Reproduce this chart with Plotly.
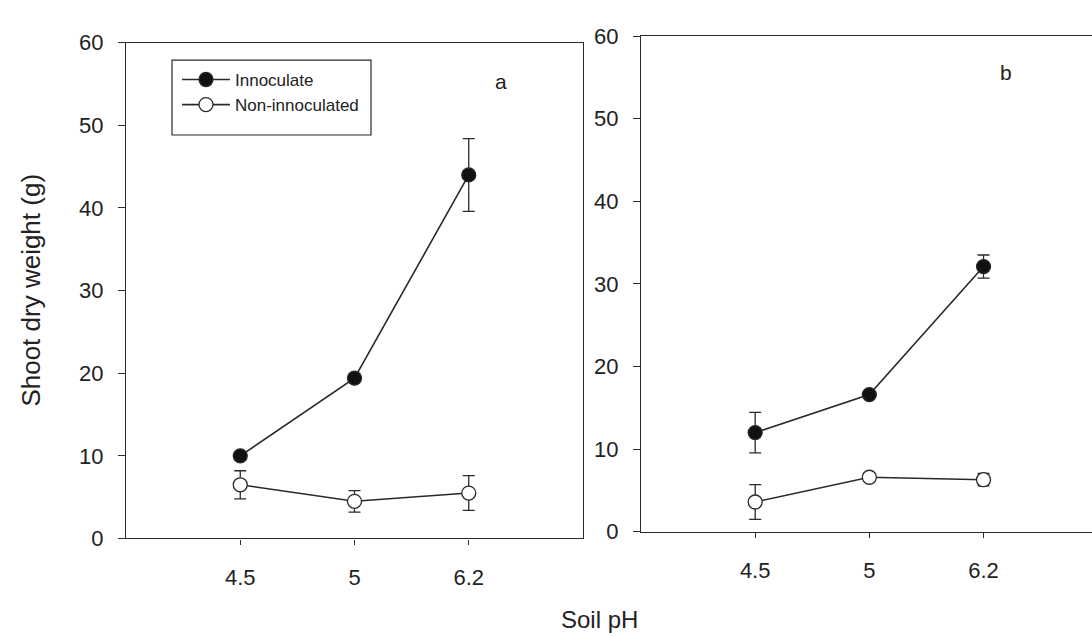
import plotly.graph_objects as go

ph_labels = ["4.5", "5", "6.2"]
ph_pos = [1, 2, 3]

# Panel a
a_inoc = [10.0, 19.4, 44.0]
a_inoc_err = [0.5, 0.5, 4.4]
a_non = [6.5, 4.5, 5.5]
a_non_err = [1.7, 1.3, 2.1]

# Panel b
b_inoc = [12.0, 16.6, 32.1]
b_inoc_err = [2.45, 0.4, 1.4]
b_non = [3.6, 6.6, 6.3]
b_non_err = [2.1, 0.5, 0.75]

y_ticks = [0, 10, 20, 30, 40, 50, 60]

W, H = 1092, 637
FONT = "Liberation Sans, Arial, sans-serif"
INK = "#2a2a2a"

fig = go.Figure()

def add_series(xa, ya, y, err, filled, name, show):
    fig.add_trace(go.Scatter(
        x=ph_pos, y=y, xaxis=xa, yaxis=ya, name=name, showlegend=show,
        mode="lines+markers",
        line=dict(color=INK, width=1.6),
        marker=dict(size=14, symbol="circle",
                    color=("#111111" if filled else "white"),
                    line=dict(color=INK, width=1.3)),
        error_y=dict(type="data", array=err, visible=True,
                     color=INK, thickness=1.3, width=6),
    ))

add_series("x", "y", a_inoc, a_inoc_err, True, "Innoculate", True)
add_series("x", "y", a_non, a_non_err, False, "Non-innoculated", True)
add_series("x2", "y2", b_inoc, b_inoc_err, True, "Innoculate", False)
add_series("x2", "y2", b_non, b_non_err, False, "Non-innoculated", False)

tickfont = dict(family=FONT, size=22, color="#222")

def xaxis(domain, rng, anchor):
    return dict(domain=domain, range=rng, anchor=anchor,
                tickmode="array", tickvals=ph_pos, ticktext=ph_labels,
                showline=True, linecolor=INK, linewidth=1.3, mirror=True,
                ticks="outside", ticklen=5, tickcolor=INK, tickwidth=1,
                ticklabelstandoff=14,
                showgrid=False, zeroline=False, tickfont=tickfont)

def yaxis(domain, anchor, mirror):
    return dict(domain=domain, range=[0, 60], anchor=anchor,
                tickmode="array", tickvals=y_ticks,
                showline=True, linecolor=INK, linewidth=1.3, mirror=mirror,
                ticks="outside", ticklen=7, tickcolor=INK, tickwidth=1,
                ticklabelstandoff=10,
                showgrid=False, zeroline=False, tickfont=tickfont)

fig.update_layout(
    width=W, height=H,
    margin=dict(l=0, r=0, t=0, b=0),
    paper_bgcolor="white", plot_bgcolor="white",
    font=dict(family=FONT, color="#222"),
    xaxis=xaxis([126 / W, 583 / W], [0, 4], "y"),
    yaxis=yaxis([1 - 548 / H, 1 - 32 / H], "x", True),
    xaxis2=xaxis([641 / W, 1.0], [0, 3.95], "y2"),
    yaxis2=yaxis([1 - 541 / H, 1 - 25 / H], "x2", False),
    legend=dict(x=177 / W, y=1 - 52 / H, xanchor="left", yanchor="top",
                bgcolor="rgba(0,0,0,0)", borderwidth=0,
                font=dict(family=FONT, size=17, color="#222"),
                tracegroupgap=0, itemwidth=48),
    shapes=[dict(type="rect", xref="paper", yref="paper",
                 x0=172 / W, x1=371 / W, y0=1 - 128 / H, y1=1 - 50 / H,
                 line=dict(color=INK, width=1.2), fillcolor="rgba(0,0,0,0)")],
    annotations=[
        dict(text="Shoot dry weight (g)", xref="paper", yref="paper",
             x=31 / W, y=1 - 290 / H, textangle=-90, showarrow=False,
             xanchor="center", yanchor="middle",
             font=dict(family=FONT, size=26, color="#222")),
        dict(text="Soil pH", xref="paper", yref="paper",
             x=599 / W, y=1 - 632 / H, showarrow=False,
             xanchor="center", yanchor="middle",
             font=dict(family=FONT, size=24, color="#222")),
        dict(text="a", xref="paper", yref="paper",
             x=501 / W, y=1 - 72 / H, showarrow=False,
             xanchor="center", yanchor="middle",
             font=dict(family=FONT, size=21, color="#222")),
        dict(text="b", xref="paper", yref="paper",
             x=1006 / W, y=1 - 63 / H, showarrow=False,
             xanchor="center", yanchor="middle",
             font=dict(family=FONT, size=21, color="#222")),
    ],
)

fig.write_html("out.html")
